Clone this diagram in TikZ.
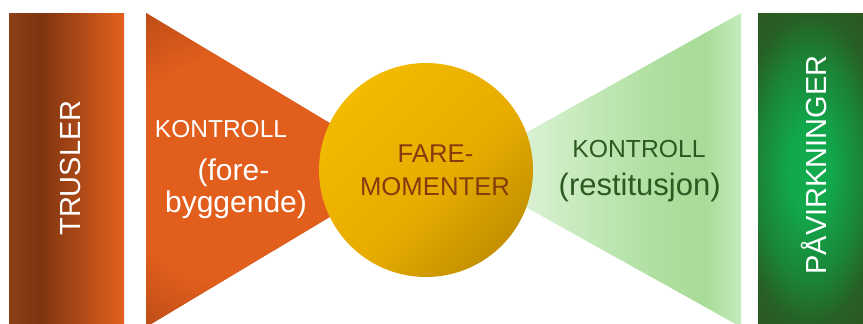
\documentclass[tikz,border=0pt]{standalone}
\usepackage{fontspec}
\setmainfont{Liberation Sans}

% palette
\definecolor{brA}{HTML}{8D4016}
\definecolor{brB}{HTML}{7E3411}
\definecolor{brC}{HTML}{E3611D}
\definecolor{orA}{HTML}{E15E1C}
\definecolor{orB}{HTML}{B74A17}
\definecolor{goA}{HTML}{F6C000}
\definecolor{goB}{HTML}{E6AC00}
\definecolor{goC}{HTML}{B38200}
\definecolor{lgA}{HTML}{E2F5DD}
\definecolor{lgB}{HTML}{D8F1D1}
\definecolor{lgC}{HTML}{C0E7B4}
\definecolor{lgD}{HTML}{AEDF9F}
\definecolor{lgE}{HTML}{A8DC97}
\definecolor{lgF}{HTML}{C6EBBC}
\definecolor{gnA}{HTML}{12AC4F}
\definecolor{gnB}{HTML}{12A74B}
\definecolor{gnC}{HTML}{1B8436}
\definecolor{gnD}{HTML}{275F24}
\definecolor{gnE}{HTML}{2B5820}
\definecolor{hazardtext}{HTML}{843C0C}
\definecolor{recovertext}{HTML}{2E5A22}

% shadings (the filled path spans 25bp..75bp of a linear shading,
% and a radius of 25bp of a radial one)
\pgfdeclarehorizontalshading{threatbar}{100bp}{color(0bp)=(brA); color(25bp)=(brA); color(38.5bp)=(brB); color(75bp)=(brC); color(100bp)=(brC)}
\pgfdeclareradialshading{preventcone}{\pgfpoint{0bp}{0bp}}{color(0bp)=(orA); color(15bp)=(orA); color(25bp)=(orB); color(50bp)=(orB)}
\pgfdeclarehorizontalshading{hazardball}{100bp}{color(0bp)=(goA); color(15bp)=(goA); color(55bp)=(goB); color(85bp)=(goC); color(100bp)=(goC)}
\pgfdeclarehorizontalshading{recovercone}{100bp}{color(0bp)=(lgA); color(25bp)=(lgA); color(37.5bp)=(lgB); color(50bp)=(lgC); color(60.5bp)=(lgD); color(68.5bp)=(lgE); color(75bp)=(lgF); color(100bp)=(lgF)}
\pgfdeclareradialshading{impactbar}{\pgfpoint{0bp}{0bp}}{color(0bp)=(gnA); color(6bp)=(gnB); color(14.5bp)=(gnC); color(20.5bp)=(gnD); color(25bp)=(gnE); color(50bp)=(gnE)}

\tikzset{
  bartext/.style={text=white, rotate=90, anchor=base, inner sep=0pt,
    font=\fontsize{29}{34}\selectfont},
  smalllabel/.style={anchor=base, inner sep=0pt},
}

\begin{document}
\begin{tikzpicture}[x=1pt, y=-1pt]
  \useasboundingbox (0,0) rectangle (863,324);

  % threats bar
  \shade[shading=threatbar] (9,13) rectangle (124,330);

  % preventive control cone
  \fill[orB] (146,13) -- (408,170) -- (146,327) -- cycle;
  \begin{scope}
    \clip (146,13) -- (408,170) -- (146,327) -- cycle;
    \shade[shading=preventcone] (232,170) circle (190pt);
  \end{scope}

  % recovery control cone
  \shade[shading=recovercone] (741,13) -- (459,170) -- (741,327) -- cycle;

  % consequences bar
  \fill[gnE] (758,13) rectangle (863,330);
  \begin{scope}
    \clip (758,13) rectangle (863,330);
    \shade[shading=impactbar] (810,170) ellipse [x radius=90pt, y radius=190pt];
  \end{scope}

  % hazard circle
  \shade[shading=hazardball, shading angle=-45] (426,170) circle (107pt);

  % labels
  \node[bartext] (threats) at (80,168) {TRUSLER};
  \node[bartext] (impacts) at (826,165) {PÅVIRKNINGER};

  \node[smalllabel, text=white, font=\fontsize{24.5}{29}\selectfont] (prevA) at (221,137) {KONTROLL};
  \node[smalllabel, text=white, font=\fontsize{30}{34}\selectfont] (prevB) at (233.5,180) {(fore-};
  \node[smalllabel, text=white, font=\fontsize{30}{34}\selectfont] (prevC) at (236,212) {byggende)};

  \node[smalllabel, text=hazardtext, font=\fontsize{25.7}{30}\selectfont] (hazA) at (435.5,162) {FARE-};
  \node[smalllabel, text=hazardtext, font=\fontsize{25.7}{30}\selectfont] (hazB) at (435,195) {MOMENTER};

  \node[smalllabel, text=recovertext, font=\fontsize{24.7}{29}\selectfont] (recA) at (639,157) {KONTROLL};
  \node[smalllabel, text=recovertext, font=\fontsize{31}{36}\selectfont] (recB) at (639.7,195) {(restitusjon)};
\end{tikzpicture}
\end{document}
